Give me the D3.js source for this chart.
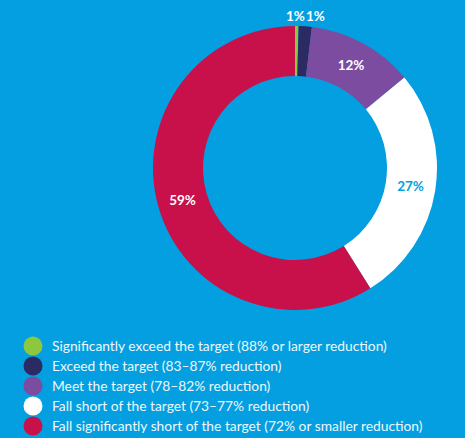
<!DOCTYPE html>
<html>
<head>
<meta charset="utf-8">
<script src="https://cdn.jsdelivr.net/npm/d3@7"></script>
<style>
  body { margin: 0; background: #049fe0; }
  svg { display: block; font-family: Lato, "Open Sans", sans-serif; }
</style>
</head>
<body>
<div class="chart"></div>
<script>
const categories = [
  "Significantly exceed the target (88% or larger reduction)",
  "Exceed the target (83\u201387% reduction)",
  "Meet the target (78\u201382% reduction)",
  "Fall short of the target (73\u201377% reduction)",
  "Fall significantly short of the target (72% or smaller reduction)"
];
const shares = [0.4, 1.5, 12.1, 27.1, 58.9];
const shareLabels = ["1%", "1%", "12%", "27%", "59%"];
const colors = ["#8dc63f", "#2c2a62", "#7b4c9f", "#ffffff", "#c8104a"];

const w = 465, h = 438;
const cx = 295, cy = 168, outerR = 142, innerR = 92;

const data = categories.map((c, i) => ({cat: c, value: shares[i], label: shareLabels[i], color: colors[i], i: i}));

const svg = d3.select(".chart")
    .append("svg")
    .attr("width", w)
    .attr("height", h);

svg.append("rect").attr("width", w).attr("height", h).attr("fill", "#049fe0");

const pie = d3.pie()
    .value(d => d.value)
    .sort(null);

const arc = d3.arc()
    .innerRadius(innerR)
    .outerRadius(outerR);

const arcs = pie(data);

const g = svg.append("g")
    .attr("transform", `translate(${cx},${cy})`);

g.selectAll("path")
    .data(arcs)
    .enter()
    .append("path")
    .attr("d", arc)
    .attr("fill", d => d.data.color);

// labels: big slices sit in the ring, the two thin ones above it
const midArc = d3.arc().innerRadius(117).outerRadius(117);
const outArc = d3.arc().innerRadius(152).outerRadius(152);

g.selectAll("text.pct")
    .data(arcs)
    .enter()
    .append("text")
    .attr("class", "pct")
    .attr("transform", d => {
        const p = d.data.value < 5 ? outArc.centroid(d) : midArc.centroid(d);
        return `translate(${p[0]},${p[1]})`;
    })
    .attr("text-anchor", d => d.data.i === 0 ? "end" : (d.data.i === 1 ? "start" : "middle"))
    .attr("dx", d => d.data.i === 0 ? 8 : 0)
    .attr("dy", "0.35em")
    .attr("font-size", 13.5)
    .attr("font-weight", "bold")
    .attr("fill", d => d.data.i === 3 ? "#049fe0" : "#ffffff")
    .text(d => d.data.label);

// legend
const legend = svg.append("g")
    .attr("transform", "translate(33,346)");

const rows = legend.selectAll("g")
    .data(data)
    .enter()
    .append("g")
    .attr("transform", (d, i) => `translate(0,${i * 20})`);

rows.append("circle")
    .attr("r", 9.5)
    .attr("fill", d => d.color);

rows.append("text")
    .attr("x", 19)
    .attr("dy", "0.35em")
    .attr("font-size", 13.8)
    .attr("fill", "#eef7fc")
    .text(d => d.cat);
</script>
</body>
</html>
